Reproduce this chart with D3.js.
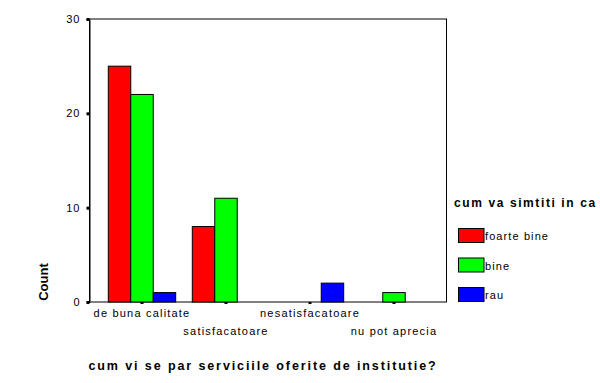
<!DOCTYPE html>
<html><head><meta charset="utf-8">
<script src="https://cdn.jsdelivr.net/npm/d3@7"></script>
<style>
body{margin:0;background:#fff;}
text{font-family:"Liberation Sans",Arial,sans-serif;fill:#000;}
</style></head>
<body><svg id="c" width="600" height="383"></svg>
<script>
const categories = ["de buna calitate","satisfacatoare","nesatisfacatoare","nu pot aprecia"];
const seriesNames = ["foarte bine","bine","rau"];
const seriesColors = ["#ff0000","#00ff00","#0000ff"];
const foarteBine = [25, 8, 0, 0];
const bine = [22, 11, 0, 1];
const rau = [1, 0, 2, 0];
const yTicks = [0, 10, 20, 30];
const xTitle = "cum vi se par serviciile oferite de institutie?";
const yTitle = "Count";
const legendTitle = "cum va simtiti in ca";

const values = [foarteBine, bine, rau];
const svg = d3.select("#c");
const L = 89.5, R = 446.5, T = 19, B = 302;

const x0 = d3.scaleBand().domain(categories).range([100, 436]).padding(0);
const groupW = 67.4;
const x1 = d3.scaleBand().domain(seriesNames).range([0, groupW]);
const y = d3.scaleLinear().domain([0, 30]).range([B, T]);

// frame
svg.append("rect").attr("x", L).attr("y", T).attr("width", R - L).attr("height", B - T)
  .attr("fill", "none").attr("stroke", "#000").attr("stroke-width", 1);

// bars
categories.forEach((c, i) => {
  const gx = x0(c) + x0.bandwidth() / 2 - groupW / 2;
  seriesNames.forEach((s, j) => {
    const v = values[j][i];
    if (v <= 0) return;
    svg.append("rect")
      .attr("x", gx + x1(s)).attr("y", y(v))
      .attr("width", x1.bandwidth()).attr("height", y(0) - y(v))
      .attr("fill", seriesColors[j]).attr("stroke", "#000").attr("stroke-width", 1);
  });
});

// y axis
const yAxis = svg.append("g").attr("transform", `translate(${L},0)`)
  .call(d3.axisLeft(y).tickValues(yTicks).tickSize(3).tickPadding(6));
yAxis.select(".domain").attr("stroke", "#000");
yAxis.selectAll(".tick line").attr("stroke", "#000").attr("stroke-width", 3);
yAxis.selectAll(".tick text").attr("font-size", 11).attr("letter-spacing", 1).attr("fill", "#000");

// x axis
const xAxis = svg.append("g").attr("transform", `translate(0,${B})`)
  .call(d3.axisBottom(x0).tickSize(2).tickPadding(5));
xAxis.select(".domain").remove();
xAxis.selectAll(".tick line").attr("stroke", "#000").attr("stroke-width", 3);
xAxis.selectAll(".tick text").attr("font-size", 11).attr("letter-spacing", 1.2).attr("fill", "#000")
  .attr("dy", (d, i) => i % 2 === 0 ? "0.71em" : "2.35em");

// titles
svg.append("text").attr("x", 263).attr("y", 370).attr("text-anchor", "middle")
  .attr("font-size", 12.5).attr("font-weight", "bold").attr("letter-spacing", 1.9).text(xTitle);
svg.append("text").attr("transform", "translate(48,282) rotate(-90)").attr("text-anchor", "middle")
  .attr("font-size", 13).attr("font-weight", "bold").text(yTitle);

// legend
svg.append("text").attr("x", 454).attr("y", 207).attr("font-size", 12).attr("font-weight", "bold")
  .attr("letter-spacing", 1.6).text(legendTitle);
seriesNames.forEach((s, j) => {
  const yy = 228.5 + j * 29.5;
  svg.append("rect").attr("x", 458.5).attr("y", yy).attr("width", 25.5).attr("height", 14)
    .attr("fill", seriesColors[j]).attr("stroke", "#000").attr("stroke-width", 1);
  svg.append("text").attr("x", 485).attr("y", yy + 11.5).attr("font-size", 11).attr("letter-spacing", 1.1).text(s);
});
</script></body></html>
